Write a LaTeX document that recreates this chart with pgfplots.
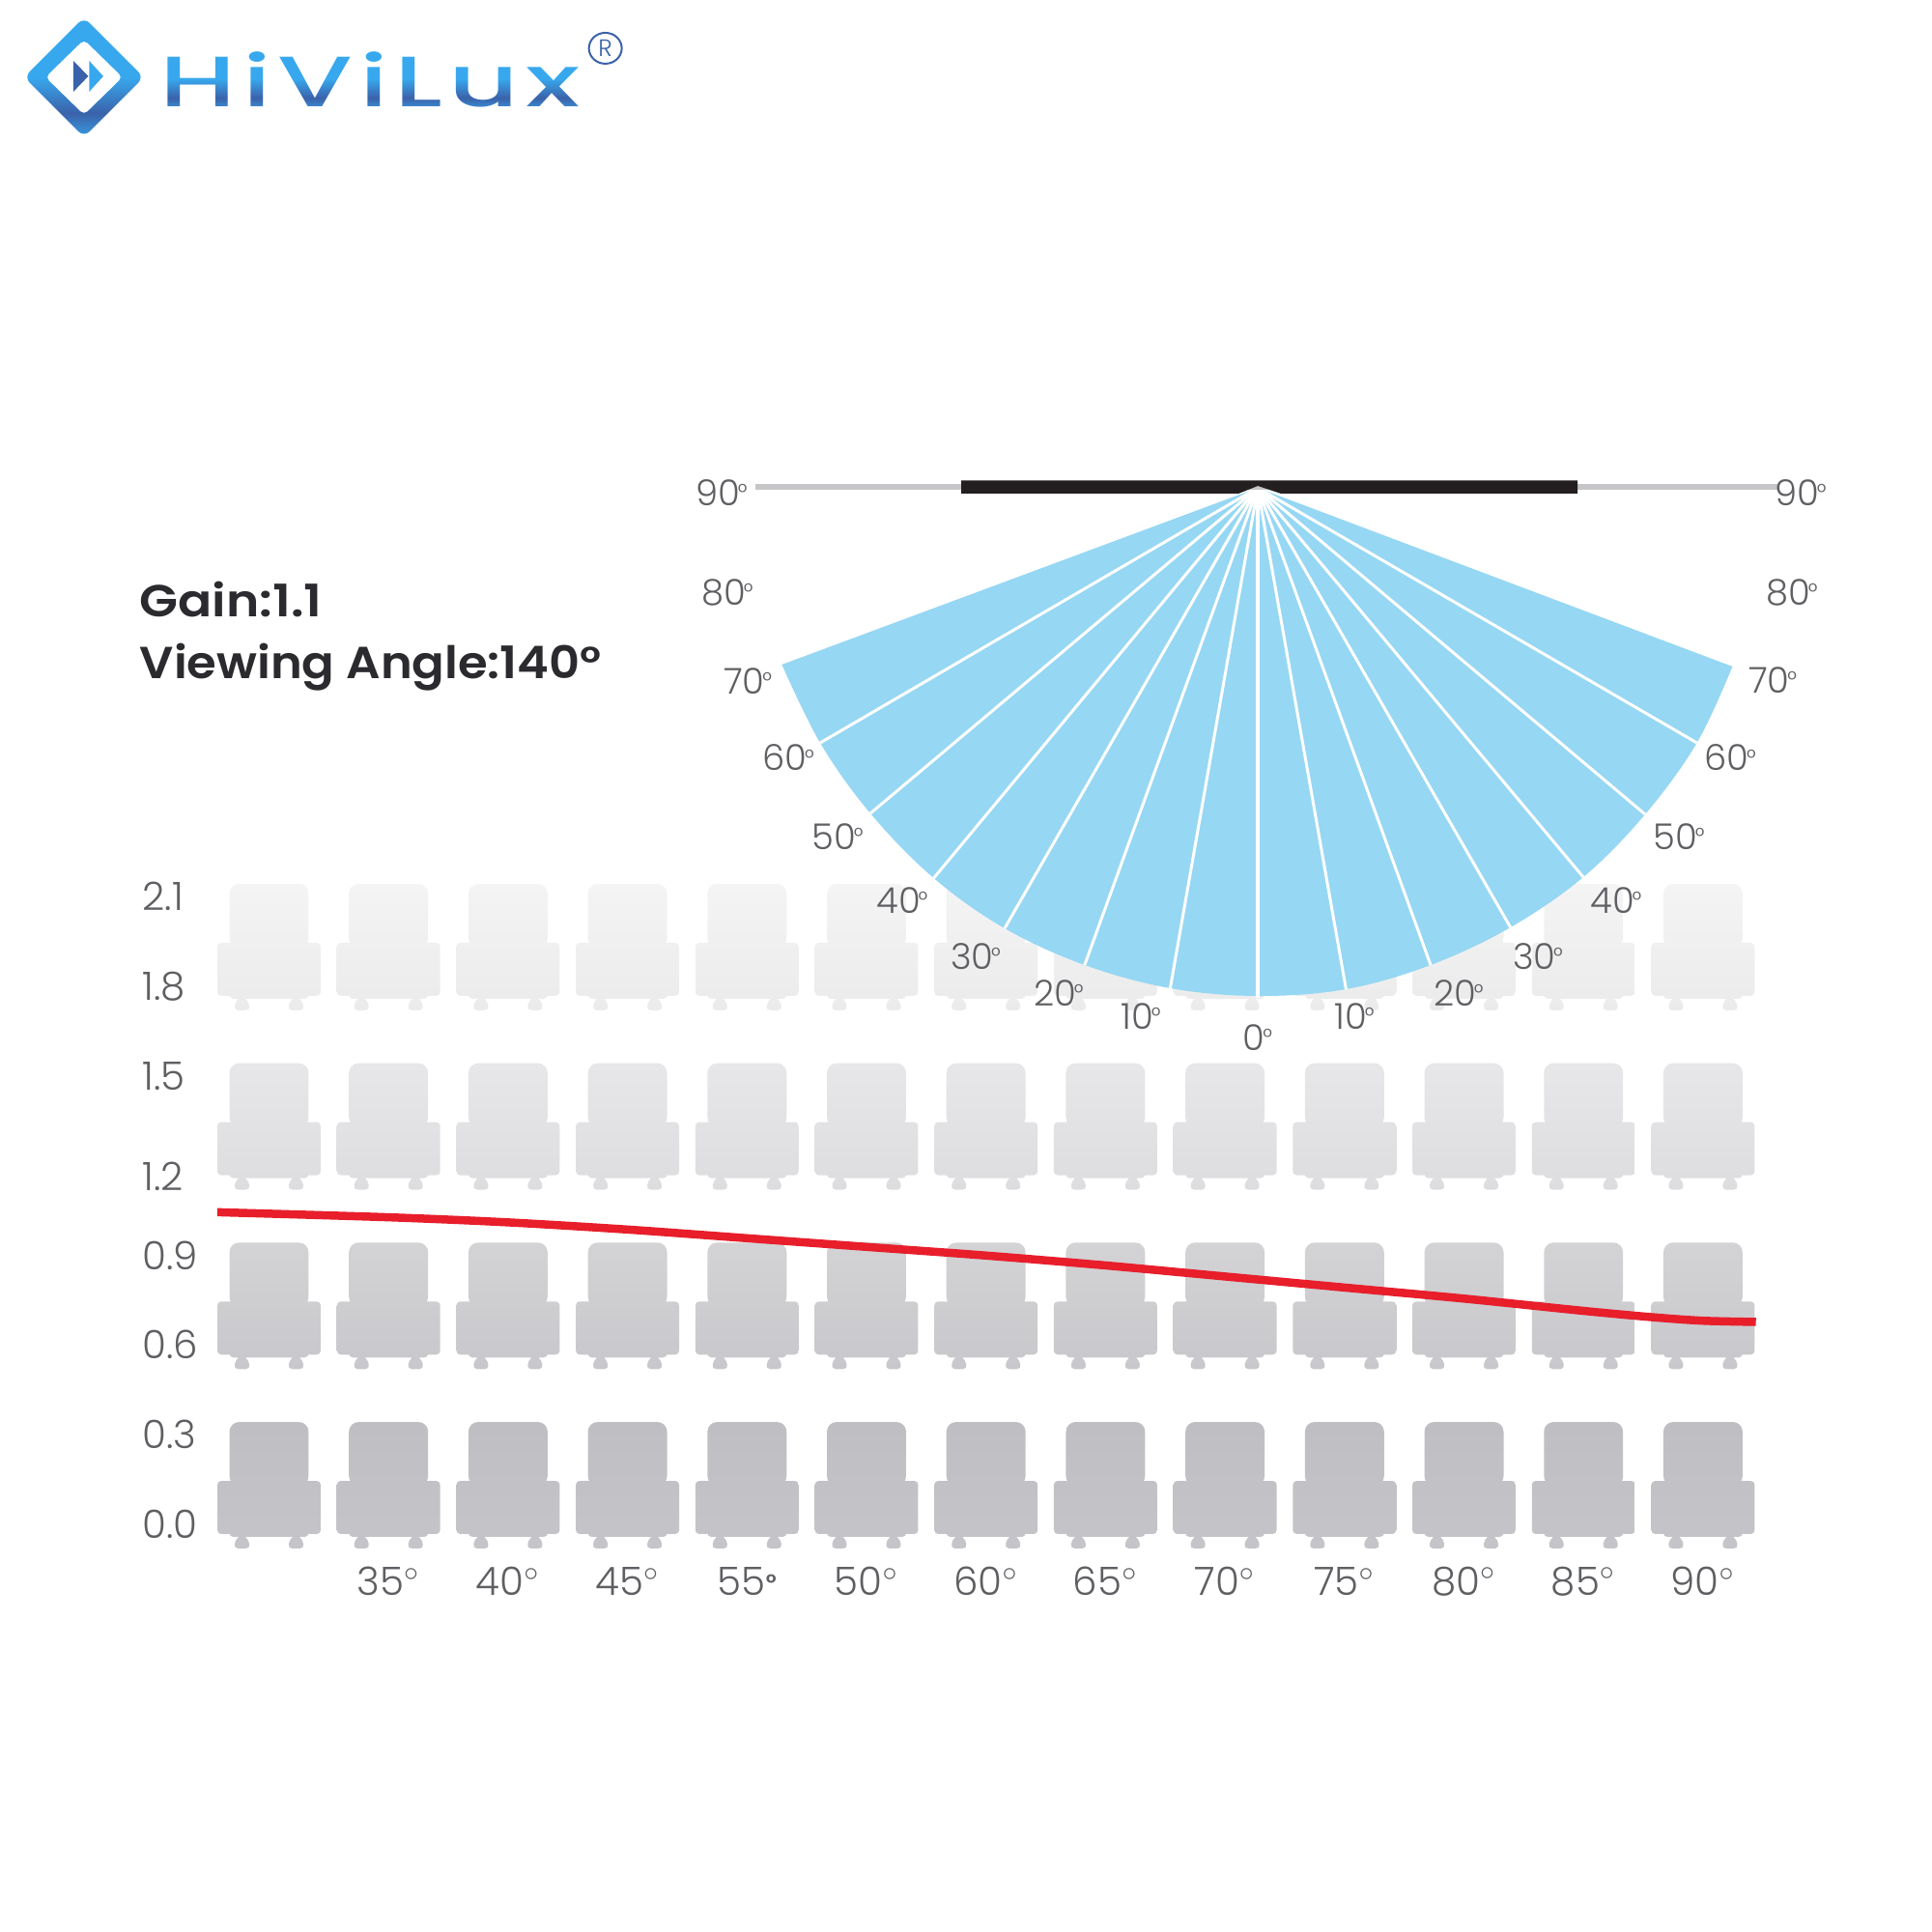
\documentclass[border=0pt]{standalone}
\usepackage{fontspec}
\usepackage{pgfplots}
\pgfplotsset{compat=1.18}
\usetikzlibrary{fadings}
\setmainfont{Poppins Light}[BoldFont={Poppins SemiBold}]
\newfontfamily\semif{Poppins SemiBold}
\newfontfamily\logof[LetterSpace=6]{Poppins Medium}
\definecolor{lab}{HTML}{5E5F62}
\definecolor{fanc}{HTML}{96D7F3}
\definecolor{redl}{HTML}{E81E2B}
\definecolor{logoL}{HTML}{38A8EE}
\definecolor{logoD}{HTML}{3A62AA}
\definecolor{logoB}{HTML}{3A9BE0}
\newcommand\seatshape[2]{%
 \begin{scope}[x=0.01cm,y=-0.01cm]
 \shade[top color=#1,bottom color=#2,draw=none]
  [rounded corners=0.1cm] (-41,-106) rectangle (41,-40)
  [rounded corners=0.04cm] (-53.5,-45) rectangle (53.5,10)
  (-41,5) rectangle (41,13)
  [rounded corners=0.05cm] (-33,12)--(-37,25)--(-19,25)--(-23,12)--cycle
  (23,12)--(19,25)--(37,25)--(33,12)--cycle;
 \end{scope}}
\definecolor{a1}{HTML}{BFBEC3}\definecolor{a2}{HTML}{C5C4C8}
\definecolor{b1}{HTML}{D3D3D5}\definecolor{b2}{HTML}{C8C7CB}
\definecolor{c1}{HTML}{E7E6E8}\definecolor{c2}{HTML}{DDDCDF}
\definecolor{d1}{HTML}{F5F4F5}\definecolor{d2}{HTML}{ECEBEC}
\pgfdeclareplotmark{seatA}{\seatshape{a1}{a2}}
\pgfdeclareplotmark{seatB}{\seatshape{b1}{b2}}
\pgfdeclareplotmark{seatC}{\seatshape{c1}{c2}}
\pgfdeclareplotmark{seatD}{\seatshape{d1}{d2}}
\pgfdeclareverticalshading{logoshade}{100bp}{
 color(0bp)=(logoB);color(25bp)=(logoB);color(35bp)=(logoD);color(50bp)=(logoL);color(75bp)=(logoL);color(100bp)=(logoL)}
\newcommand\fs[1]{\fontsize{#1}{#1}\selectfont}
\begin{document}
\begin{tikzfadingfrompicture}[name=logofade]
 \node[text=transparent!0,inner sep=0pt,xscale=1.52,font=\logof\fs{21pt}] at (0,0) {HiViLux};
\end{tikzfadingfrompicture}%
\begin{tikzpicture}
\path[use as bounding box] (0,0) rectangle (20cm,20cm);
% chart axis: gain vs. seat column
\begin{axis}[
  at={(2cm,3.8cm)},anchor=south west,
  width=16.5cm,height=7.2cm,scale only axis,
  xmin=-0.6346,xmax=12.704,ymin=-0.1357,ymax=2.1906,
  clip=false,clip mode=individual,
  axis line style={draw=none},
  tick style={draw=none},
  major tick length=0pt,
  xtick={1,2,3,4,5,6,7,8,9,10,11,12},
  xticklabels={35$^{\circ}$,40$^{\circ}$,45$^{\circ}$,55{\bfseries\raisebox{0.1em}{\fs{7pt}°}},50$^{\circ}$,60$^{\circ}$,65$^{\circ}$,70$^{\circ}$,75$^{\circ}$,80$^{\circ}$,85$^{\circ}$,90$^{\circ}$},
  ytick={0,0.3,0.6,0.9,1.165,1.5,1.8,2.1},
  yticklabels={0.0,0.3,0.6,0.9,1.2,1.5,1.8,2.1},
  xticklabel style={font=\fs{11.5pt},text=lab,anchor=center,inner sep=0pt,yshift=-0.17cm},
  yticklabel style={font=\fs{11.5pt},text=lab,anchor=west,inner sep=0pt,xshift=-0.53cm},
]
\addplot[only marks,mark=seatA] coordinates {(0,0)(1,0)(2,0)(3,0)(4,0)(5,0)(6,0)(7,0)(8,0)(9,0)(10,0)(11,0)(12,0)};
\addplot[only marks,mark=seatB] coordinates {(0,0.6)(1,0.6)(2,0.6)(3,0.6)(4,0.6)(5,0.6)(6,0.6)(7,0.6)(8,0.6)(9,0.6)(10,0.6)(11,0.6)(12,0.6)};
\addplot[only marks,mark=seatC] coordinates {(0,1.2)(1,1.2)(2,1.2)(3,1.2)(4,1.2)(5,1.2)(6,1.2)(7,1.2)(8,1.2)(9,1.2)(10,1.2)(11,1.2)(12,1.2)};
\addplot[only marks,mark=seatD] coordinates {(0,1.8)(1,1.8)(2,1.8)(3,1.8)(4,1.8)(5,1.8)(6,1.8)(7,1.8)(8,1.8)(9,1.8)(10,1.8)(11,1.8)(12,1.8)};
\addplot[redl,line width=0.085cm,smooth,no marks] coordinates {
 (-0.433,1.044)(1,1.027)(2,1.010)(3,0.986)(4,0.957)(5,0.928)(6,0.899)(7,0.866)(8,0.829)(9,0.792)(10,0.755)(11,0.714)(11.57,0.693)(12,0.681)(12.443,0.677)};
\end{axis}
% frame axis in reference pixels
\begin{axis}[
  at={(0,0)},anchor=south west,
  width=20cm,height=20cm,scale only axis,
  xmin=0,xmax=2000,ymin=0,ymax=2000,y dir=reverse,
  hide axis,clip=false,
]
\addplot[draw=none,fill=fanc] coordinates {(1302,505)(809.4,688)(1302,800)(1793.4,690)} --cycle;
\addplot[draw=none,fill=fanc,smooth,tension=0.6] coordinates {
 (809.4,688)(849,769)(901,842)(966.6,909)(1040,961)(1122.8,999)(1211.4,1023)(1302,1031)(1393.4,1024)(1481,999)(1563.6,960)(1639,908)(1703,843)(1756.6,769)(1793.4,690)};
\addplot[white,line width=0.03cm] coordinates {(1302,505)(849,769)};
\addplot[white,line width=0.03cm] coordinates {(1302,505)(901,842)};
\addplot[white,line width=0.03cm] coordinates {(1302,505)(966.6,909)};
\addplot[white,line width=0.03cm] coordinates {(1302,505)(1040,961)};
\addplot[white,line width=0.03cm] coordinates {(1302,505)(1122.8,999)};
\addplot[white,line width=0.03cm] coordinates {(1302,505)(1211.4,1023)};
\addplot[white,line width=0.045cm] coordinates {(1302,505)(1302,1033)};
\addplot[white,line width=0.03cm] coordinates {(1302,505)(1393.4,1024)};
\addplot[white,line width=0.03cm] coordinates {(1302,505)(1481,999)};
\addplot[white,line width=0.03cm] coordinates {(1302,505)(1563.6,960)};
\addplot[white,line width=0.03cm] coordinates {(1302,505)(1639,908)};
\addplot[white,line width=0.03cm] coordinates {(1302,505)(1703,843)};
\addplot[white,line width=0.03cm] coordinates {(1302,505)(1756.6,769)};
\addplot[color={rgb,255:red,198;green,198;blue,200},line width=0.058cm] coordinates {(782,504)(1842,504)};
\addplot[draw=none,fill={rgb,255:red,35;green,31;blue,32}] coordinates {(995,497.5)(1633,497.5)(1633,511)(1326,511)(1302,503)(1282,511)(995,511)} --cycle;
\newcommand\dg[3]{\node[font=\fs{10.5pt},text=lab,inner sep=0pt] at (axis cs:#1,#2) {#3\kern-0.06em\raisebox{0.12em}{\fs{7pt}°}};}
\dg{747}{510}{90}\dg{1864}{510}{90}
\dg{753}{613}{80}\dg{1855}{613}{80}
\dg{774}{705}{70}\dg{1835}{704}{70}
\dg{816}{784}{60}\dg{1791}{784}{60}
\dg{867}{866}{50}\dg{1738}{866}{50}
\dg{934}{932}{40}\dg{1673}{932}{40}
\dg{1010}{990}{30}\dg{1592}{990}{30}
\dg{1096}{1028}{20}\dg{1510}{1028}{20}
\dg{1181}{1052}{10}\dg{1402}{1052}{10}
\dg{1302}{1074}{0}
\node[anchor=base west,inner sep=0pt,xscale=1.12,font=\semif\fs{13.2pt},text={rgb,255:red,43;green,42;blue,46}] at (axis cs:144,639) {Gain:1.1};
\node[anchor=base west,inner sep=0pt,xscale=1.07,font=\semif\fs{13.2pt},text={rgb,255:red,43;green,42;blue,46}] at (axis cs:144,703) {Viewing Angle:140°};
\end{axis}
% logo mark and wordmark
\begin{scope}[shift={(0,20cm)},x=0.01cm,y=-0.01cm]
\shade[shading=logoshade,even odd rule]
 [rounded corners=0.08cm] (87,18)--(149,80)--(87,142)--(25,80)--cycle
 [rounded corners=0.05cm] (87,41)--(127,80)--(87,119)--(47,80)--cycle;
\fill[logoD] (76,63)--(91.5,79)--(76,95)--cycle;
\fill[logoL] (92.4,63)--(107,79)--(92.4,95)--cycle;
\draw[logoD,line width=0.02cm] (627,50) ellipse (17 and 16);
\node[text=logoD,font=\fs{7pt},inner sep=0pt] at (627,50) {R};
\shade[shading=logoshade,path fading=logofade,fit fading=false,fading transform={shift={(3.83cm,19.18cm)}}]
 (160,48) rectangle (610,115);
\end{scope}
\end{tikzpicture}
\end{document}
